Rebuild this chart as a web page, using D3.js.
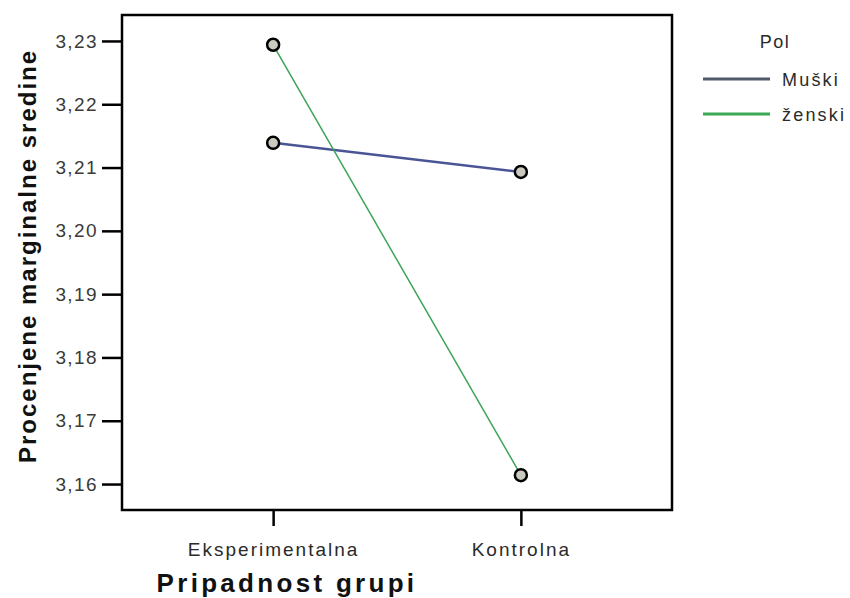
<!DOCTYPE html>
<html>
<head>
<meta charset="utf-8">
<script src="https://cdn.jsdelivr.net/npm/d3@7/dist/d3.min.js"></script>
<style>
  html, body { margin: 0; padding: 0; background: #fff; }
  svg { display: block; font-family: "Liberation Sans", Arial, sans-serif; }
</style>
</head>
<body>
<svg id="chart" width="850" height="598"></svg>
<script>
// Estimated marginal means by group and sex
const groups = ["Eksperimentalna", "Kontrolna"];
const seriesNames = ["Muški", "ženski"];
const muskiValues = [3.2139, 3.2093];
const zenskiValues = [3.2294, 3.1614];
const yTicks = [3.16, 3.17, 3.18, 3.19, 3.20, 3.21, 3.22, 3.23];
const seriesColors = ["#4a5596", "#3da458"];
const legendColors = ["#505a6a", "#3aa855"];

const svg = d3.select("#chart");
const box = { left: 122, right: 672, top: 15, bottom: 510 };

const x = d3.scalePoint()
  .domain(groups)
  .range([box.left, box.right])
  .padding(0.61);

const y = d3.scaleLinear()
  .domain([3.1559, 3.2341])
  .range([box.bottom, box.top]);

const fmt = d => d3.format(".2f")(d).replace(".", ",");

// Plot frame
svg.append("rect")
  .attr("x", box.left).attr("y", box.top)
  .attr("width", box.right - box.left).attr("height", box.bottom - box.top)
  .attr("fill", "#fff").attr("stroke", "#000").attr("stroke-width", 2.5);

// Y axis
const yAxis = svg.append("g")
  .attr("transform", `translate(${box.left},0)`)
  .call(d3.axisLeft(y).tickValues(yTicks).tickFormat(fmt).tickSize(20).tickSizeOuter(0));
yAxis.select(".domain").remove();
yAxis.selectAll(".tick line").attr("stroke", "#000").attr("stroke-width", 2.5);
yAxis.selectAll(".tick text")
  .attr("x", -24).attr("fill", "#3a3a3a")
  .style("font-size", "19px").style("letter-spacing", "1.4px");

// X axis
const xAxis = svg.append("g")
  .attr("transform", `translate(0,${box.bottom})`)
  .call(d3.axisBottom(x).tickSize(16).tickSizeOuter(0));
xAxis.select(".domain").remove();
xAxis.selectAll(".tick line").attr("stroke", "#000").attr("stroke-width", 2.5);
xAxis.selectAll(".tick text")
  .attr("y", 46).attr("dy", 0).attr("fill", "#2a2a2a")
  .style("font-size", "19px").style("letter-spacing", "2px");

// Axis titles
svg.append("text")
  .attr("x", 287).attr("y", 592)
  .attr("text-anchor", "middle")
  .style("font-size", "26px").style("font-weight", "bold").style("letter-spacing", "3.3px")
  .attr("fill", "#111")
  .text("Pripadnost grupi");

svg.append("text")
  .attr("transform", "translate(36,256) rotate(-90)")
  .attr("text-anchor", "middle")
  .style("font-size", "24px").style("font-weight", "bold").style("letter-spacing", "2px")
  .attr("fill", "#111")
  .text("Procenjene marginalne sredine");

// Series lines and markers
const series = [
  { name: seriesNames[0], values: muskiValues, color: seriesColors[0], width: 2.5 },
  { name: seriesNames[1], values: zenskiValues, color: seriesColors[1], width: 1.5 }
];

const line = d3.line()
  .x((d, i) => x(groups[i]))
  .y(d => y(d));

svg.selectAll("path.series")
  .data(series)
  .join("path")
  .attr("class", "series")
  .attr("d", s => line(s.values))
  .attr("fill", "none")
  .attr("stroke", s => s.color)
  .attr("stroke-width", s => s.width);

series.forEach(s => {
  svg.selectAll(null)
    .data(s.values)
    .join("circle")
    .attr("cx", (d, i) => x(groups[i]))
    .attr("cy", d => y(d))
    .attr("r", 6)
    .attr("fill", "#c9c9bf")
    .attr("stroke", "#000")
    .attr("stroke-width", 2.5);
});

// Legend
const legend = svg.append("g");
legend.append("text")
  .attr("x", 775).attr("y", 48)
  .attr("text-anchor", "middle")
  .style("font-size", "18px").style("letter-spacing", "1.5px").attr("fill", "#2a2a2a")
  .text("Pol");

const legendRows = legend.selectAll("g.row")
  .data(seriesNames)
  .join("g")
  .attr("class", "row")
  .attr("transform", (d, i) => `translate(0,${79 + i * 35})`);

legendRows.append("line")
  .attr("x1", 703).attr("x2", 770)
  .attr("y1", 0).attr("y2", 0)
  .attr("stroke", (d, i) => legendColors[i])
  .attr("stroke-width", 3);

legendRows.append("text")
  .attr("x", 782).attr("y", 7)
  .style("font-size", "18px").style("letter-spacing", "2.2px").attr("fill", "#2a2a2a")
  .text(d => d);
</script>
</body>
</html>
